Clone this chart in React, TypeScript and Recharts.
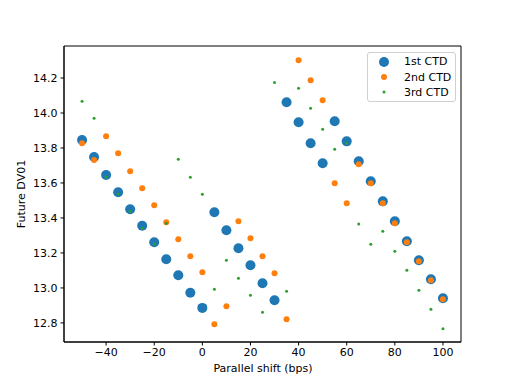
import { ScatterChart, Scatter, XAxis, YAxis, ReferenceArea } from 'recharts';

const shifts = [
  -50, -45, -40, -35, -30, -25, -20, -15, -10, -5, 0, 5, 10, 15, 20, 25,
  30, 35, 40, 45, 50, 55, 60, 65, 70, 75, 80, 85, 90, 95, 100,
];

const firstCtd = [
  13.846, 13.749, 13.646, 13.547, 13.45, 13.356, 13.261, 13.164, 13.073, 12.973, 12.886,
  13.433, 13.33, 13.227, 13.13, 13.027, 12.93, 14.061, 13.947, 13.827, 13.713,
  13.953, 13.838, 13.724, 13.61, 13.495, 13.381, 13.267, 13.158, 13.05, 12.941,
];

const secondCtd = [
  13.827, 13.731, 13.867, 13.77, 13.667, 13.57, 13.473, 13.375, 13.278, 13.181, 13.089,
  12.793, 12.895, 13.381, 13.284, 13.181, 13.084, 12.821, 14.301, 14.187, 14.073,
  13.598, 13.484, 13.707, 13.598, 13.484, 13.37, 13.261, 13.153, 13.044, 12.935,
];

const thirdCtd = [
  14.067, 13.97, 13.634, 13.537, 13.438, 13.341, 13.251, 13.37, 13.735, 13.633, 13.535,
  12.993, 13.158, 13.055, 12.958, 12.861, 14.175, 12.981, 14.141, 14.027, 13.907,
  13.793, 13.827, 13.365, 13.25, 13.324, 13.21, 13.101, 12.987, 12.878, 12.767,
];

const xTicks = [-40, -20, 0, 20, 40, 60, 80, 100];
const yTicks = [12.8, 13.0, 13.2, 13.4, 13.6, 13.8, 14.0, 14.2];

const xDomain = [-57.5, 107.5];
const yDomain = [12.691, 14.383];

const series = [
  { name: '1st CTD', values: firstCtd, color: '#1f77b4', r: 5 },
  { name: '2nd CTD', values: secondCtd, color: '#ff7f0e', r: 3 },
  { name: '3rd CTD', values: thirdCtd, color: '#2ca02c', r: 1.5 },
];

const font = '"DejaVu Sans", sans-serif';
const tickStyle = { fontSize: 11, fill: '#000', fontFamily: font };

const dot = (color: string, r: number) => (props: any) =>
  <circle cx={props.cx} cy={props.cy} r={r} fill={color} />;

const minus = (v: number) => String(v).replace('-', '\u2212');

function LegendBox() {
  return (
    <div
      style={{
        position: 'absolute',
        left: 367,
        top: 52,
        width: 89,
        height: 50,
        border: '1px solid #d0d0d0',
        borderRadius: 3,
        background: 'rgba(255,255,255,0.8)',
        fontFamily: font,
        fontSize: 11,
        boxSizing: 'border-box',
        paddingTop: 1,
      }}
    >
      {series.map((s) => (
        <div key={s.name} style={{ display: 'flex', alignItems: 'center', height: 15.4 }}>
          <svg width={34} height={12}>
            <circle cx={16} cy={6} r={s.r} fill={s.color} />
          </svg>
          <span style={{ marginLeft: 2, color: '#000' }}>{s.name}</span>
        </div>
      ))}
    </div>
  );
}

export default function App() {
  return (
    <div style={{ position: 'absolute', left: 0, top: 0, width: 512, height: 384, background: '#fff' }}>
      <ScatterChart width={512} height={384} margin={{ top: 46, right: 51, bottom: 12, left: 14 }}>
        <XAxis
          type="number"
          dataKey="x"
          domain={xDomain}
          ticks={xTicks}
          tickFormatter={minus}
          allowDataOverflow
          height={30}
          tickSize={3.5}
          tickMargin={3}
          tick={tickStyle}
          axisLine={{ stroke: '#000' }}
          tickLine={{ stroke: '#000' }}
          label={{
            content: () => (
              <text x={263} y={372} textAnchor="middle" fontSize={11} fontFamily={font} fill="#000">
                Parallel shift (bps)
              </text>
            ),
          }}
        />
        <YAxis
          type="number"
          dataKey="y"
          domain={yDomain}
          ticks={yTicks}
          tickFormatter={(v: number) => v.toFixed(1)}
          allowDataOverflow
          width={50}
          tickSize={3.5}
          tickMargin={3}
          tick={tickStyle}
          axisLine={{ stroke: '#000' }}
          tickLine={{ stroke: '#000' }}
          label={{
            content: () => (
              <text x={25} y={194} transform="rotate(-90 25 194)" textAnchor="middle" fontSize={11} fontFamily={font} fill="#000">
                Future DV01
              </text>
            ),
          }}
        />
        <ReferenceArea x1={xDomain[0]} x2={xDomain[1]} y1={yDomain[0]} y2={yDomain[1]}
          fill="none" stroke="#000" strokeWidth={1} ifOverflow="visible" />
        {series.map((s) => (
          <Scatter
            key={s.name}
            name={s.name}
            data={shifts.map((x, i) => ({ x, y: s.values[i] }))}
            fill={s.color}
            shape={dot(s.color, s.r)}
            isAnimationActive={false}
          />
        ))}
      </ScatterChart>
      <LegendBox />
    </div>
  );
}
